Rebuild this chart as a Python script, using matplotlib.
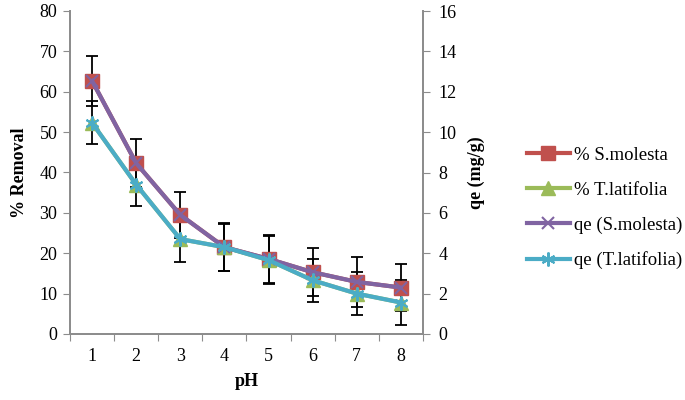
import matplotlib
matplotlib.use("Agg")
import matplotlib.pyplot as plt

ph = [1, 2, 3, 4, 5, 6, 7, 8]
rem_sm = [62.7, 42.3, 29.5, 21.5, 18.6, 15.3, 12.9, 11.5]
err_sm = [6.2, 6.0, 5.7, 5.8, 6.0, 6.0, 6.2, 5.8]
rem_tl = [52.3, 37.0, 23.5, 21.5, 18.3, 13.3, 10.0, 7.8]
err_tl = [5.3, 5.2, 5.6, 6.0, 6.0, 5.3, 5.3, 5.5]
qe_sm = [12.54, 8.46, 5.9, 4.3, 3.72, 3.06, 2.58, 2.3]
qe_tl = [10.46, 7.4, 4.7, 4.3, 3.66, 2.66, 2.0, 1.56]

plt.rcParams['font.family'] = ['Liberation Serif', 'DejaVu Serif']
grey = '#8c8c8c'

fig = plt.figure(figsize=(6.85, 4.0), dpi=100)
ax = fig.add_axes([70/685, 66/400, 353/685, 323/400])
ax2 = ax.twinx()

h1 = ax.errorbar(ph, rem_sm, yerr=err_sm, color='#c0504d', lw=3, marker='s', ms=10,
                 ecolor='black', elinewidth=1.3, capsize=4, capthick=1.3,
                 label='% S.molesta', zorder=2)
h2 = ax.errorbar(ph, rem_tl, yerr=err_tl, color='#9bbb59', lw=3, marker='^', ms=10,
                 ecolor='black', elinewidth=1.3, capsize=4, capthick=1.3,
                 label='% T.latifolia', zorder=2)
h3, = ax2.plot(ph, qe_sm, color='#8064a2', lw=3, marker='x', ms=9, mew=1.5,
               label='qe (S.molesta)')
h4, = ax2.plot(ph, qe_tl, color='#4bacc6', lw=3, marker=(6, 2, 0), ms=10, mew=1.5,
               label='qe (T.latifolia)')

ax.set_xlim(0.5, 8.5)
ax.set_ylim(0, 80)
ax2.set_ylim(0, 16)
# ticks sit between categories, labels centred on them
ax.set_xticks([x + 0.5 for x in range(0, 9)])
ax.set_xticklabels([])
ax.set_xticks(ph, minor=True)
ax.set_xticklabels([str(p) for p in ph], minor=True)
ax.tick_params(axis='x', which='major', length=5, color=grey, direction='out')
ax.tick_params(axis='x', which='minor', length=0, labelsize=13, pad=10)
ax.set_yticks(range(0, 81, 10))
ax2.set_yticks(range(0, 17, 2))
ax.tick_params(axis='y', length=5, color=grey, labelsize=13, pad=4)
ax2.tick_params(axis='y', length=5, color=grey, labelsize=13, pad=6)

for a in (ax, ax2):
    for s in a.spines.values():
        s.set_color(grey)
        s.set_linewidth(1.3)
    a.spines['top'].set_visible(False)

ax.set_xlabel('pH', fontsize=13, fontweight='bold', labelpad=6)
ax.set_ylabel('% Removal', fontsize=13, fontweight='bold', labelpad=8)
ax2.set_ylabel('qe (mg/g)', fontsize=13, fontweight='bold', labelpad=8)

handles = [h1[0], h2[0], h3, h4]
labels = ['% S.molesta', '% T.latifolia', 'qe (S.molesta)', 'qe (T.latifolia)']
fig.legend(handles, labels, loc='center left', bbox_to_anchor=(510/685, 0.48),
           frameon=False, fontsize=13.5, handlelength=2.3, handletextpad=0.2,
           labelspacing=0.95, numpoints=1)

fig.savefig('out.png', dpi=100)
